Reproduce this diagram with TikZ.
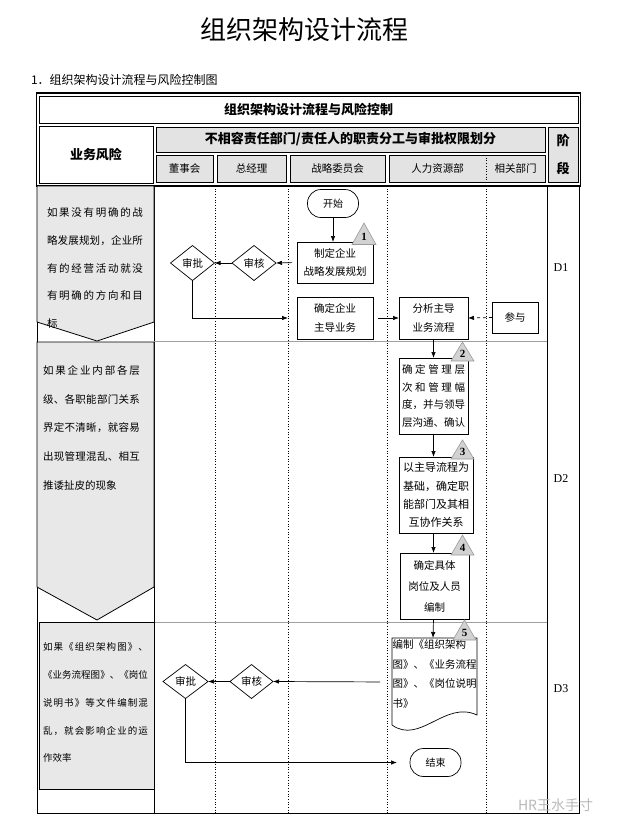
\documentclass[tikz,border=0pt]{standalone}
\usepackage{fontspec}
\setmainfont{Noto Sans CJK SC}
\newfontfamily\latinserif{Liberation Serif}
\usetikzlibrary{arrows.meta,shapes.geometric}
\definecolor{hgray}{HTML}{E3E3E3}
\definecolor{riskgray}{HTML}{E8E8E8}
\definecolor{trigray}{HTML}{D2D2D2}
\definecolor{triedge}{HTML}{9A9A9A}
\definecolor{sepgray}{HTML}{A0A0A0}
\def\spreadA#1{#1\spreadB}
\def\spreadB#1{\ifx#1\relax\else\hfil#1\expandafter\spreadB\fi}
\newcommand\spreadln[2]{\makebox[#1][s]{\spreadA#2\relax}}
\tikzset{
  every node/.style={inner sep=0pt,outer sep=0pt},
  hcell/.style={draw,line width=0.8pt,fill=hgray},
  wcell/.style={draw,line width=0.8pt,fill=white},
  hbold/.style={font=\bfseries\fontsize{13}{15}\selectfont},
  hsub/.style={font=\fontsize{10.5}{12}\selectfont},
  box/.style={draw,line width=0.7pt,fill=white,align=center,font=\fontsize{10.5}{18.5}\selectfont},
  dia/.style={draw,diamond,line width=0.7pt,aspect=1.25,minimum width=44pt,minimum height=35pt,fill=white,font=\fontsize{10.5}{12}\selectfont},
  term/.style={draw,rounded corners=13.5pt,line width=0.7pt,minimum width=51pt,minimum height=28pt,fill=white,font=\fontsize{10}{12}\selectfont},
  flow/.style={line width=0.7pt,-{Latex[length=6pt,width=4.5pt]}},
  risk/.style={draw,line width=0.8pt,fill=riskgray},
  risktxt/.style={anchor=west,font=\fontsize{10.5}{12}\selectfont},
  risktxtsm/.style={anchor=west,font=\fontsize{9.5}{12}\selectfont},
  tri/.style={draw=triedge,fill=trigray,line width=0.6pt},
  trinum/.style={font=\latinserif\bfseries\fontsize{11}{12}\selectfont},
  colsep/.style={dotted,line width=0.7pt},
  stagesep/.style={draw=sepgray,line width=0.7pt},
  dlab/.style={font=\latinserif\fontsize{12}{14}\selectfont}
}
\begin{document}
\begin{tikzpicture}[x=1pt,y=-1pt]
\useasboundingbox[fill=white] (0,0) rectangle (619,831);

% titles
\node[font=\fontsize{26}{30}\selectfont] (title) at (304,30) {组织架构设计流程};
\node[anchor=west,font=\fontsize{12}{14}\selectfont] (subtitle) at (31,80) {1．组织架构设计流程与风险控制图};

% header
\draw[line width=1.2pt] (36.5,93) rectangle (580.5,186);
\node[wcell,hbold,minimum width=539pt,minimum height=27pt] (htitle) at (308.5,109.5) {组织架构设计流程与风险控制};
\node[wcell,hbold,minimum width=114pt,minimum height=57pt] (hrisk) at (96,154.5) {业务风险};
\node[hcell,hbold,minimum width=389pt,minimum height=25pt] (hmain) at (350.5,139.5) {不相容责任部门/责任人的职责分工与审批权限划分};
\node[hcell,hsub,minimum width=57pt,minimum height=27pt] (hdsh) at (184.5,168.5) {董事会};
\node[hcell,hsub,minimum width=69pt,minimum height=27pt] (hzjl) at (251.5,168.5) {总经理};
\node[hcell,hsub,minimum width=95pt,minimum height=27pt] (hzl) at (337.5,168.5) {战略委员会};
\node[hcell,minimum width=156pt,minimum height=27pt] (hhr) at (467,168.5) {};
\draw[colsep] (486,155) -- (486,182);
\node[hsub] (hrl) at (437.5,168.5) {人力资源部};
\node[hsub] (hxg) at (515.5,168.5) {相关部门};
\node[hcell,hbold,minimum width=30pt,minimum height=55pt,align=center,font=\bfseries\fontsize{13}{28}\selectfont] (hjd) at (563,154.5) {阶\\段};

% body frame
\draw[line width=1pt] (37,186) -- (37,813) -- (579.5,813) -- (579.5,186);
\draw[line width=0.8pt] (154,186) -- (154,813);
\draw[line width=0.8pt] (547,186) -- (547,813);
\foreach \xx in {215,288,387,486} \draw[colsep] (\xx,186) -- (\xx,813);
\draw[stagesep] (154,341.5) -- (547,341.5);
\draw[stagesep] (154,622) -- (547,622);

% risk shapes
\draw[risk] (37,186) -- (154,186) -- (154,322) -- (97,341) -- (37,322) -- cycle;
\draw[risk] (37,342) -- (154,342) -- (154,587) -- (97,620) -- (37,587) -- cycle;
\draw[risk] (39,622) rectangle (154,789);

\node[risktxt] (r1a) at (47,213) {\spreadln{96pt}{如果没有明确的战}};
\node[risktxt] (r1b) at (47,240.5) {\spreadln{96pt}{略发展规划，企业所}};
\node[risktxt] (r1c) at (47,268) {\spreadln{96pt}{有的经营活动就没}};
\node[risktxt] (r1d) at (47,295.5) {\spreadln{96pt}{有明确的方向和目}};
\node[risktxt] (r1e) at (47,323) {标};

\node[risktxt] (r2a) at (43,371) {\spreadln{97pt}{如果企业内部各层}};
\node[risktxt] (r2b) at (43,399.5) {\spreadln{97pt}{级、各职能部门关系}};
\node[risktxt] (r2c) at (43,428) {\spreadln{97pt}{界定不清晰，就容易}};
\node[risktxt] (r2d) at (43,456.5) {\spreadln{97pt}{出现管理混乱、相互}};
\node[risktxt] (r2e) at (43,485) {推诿扯皮的现象};

\node[risktxtsm] (r3a) at (43,647) {\spreadln{105pt}{如果《组织架构图》、}};
\node[risktxtsm] (r3b) at (43,675) {\spreadln{105pt}{《业务流程图》、《岗位}};
\node[risktxtsm] (r3c) at (43,703) {\spreadln{105pt}{说明书》等文件编制混}};
\node[risktxtsm] (r3d) at (43,730.5) {\spreadln{105pt}{乱，就会影响企业的运}};
\node[risktxtsm] (r3e) at (43,758) {作效率};

% stage labels
\node[dlab] (d1) at (561,268) {D1};
\node[dlab] (d2) at (561,479) {D2};
\node[dlab] (d3) at (561,689) {D3};

% flow nodes
\node[term] (start) at (333,203.5) {开始};
\node[box,minimum width=76pt,minimum height=41pt] (b1) at (335,262.5) {制定企业\\战略发展规划};
\node[dia] (sh1) at (254,263) {审核};
\node[dia] (sp1) at (192.5,263) {审批};
\node[box,minimum width=76pt,minimum height=42pt] (b2) at (335,318) {确定企业\\主导业务};
\node[box,minimum width=69pt,minimum height=42pt] (b3) at (433.5,318) {分析主导\\业务流程};
\node[box,minimum width=46pt,minimum height=31pt] (cy) at (515,317.5) {参与};
\node[box,minimum width=69pt,minimum height=76pt,font=\fontsize{10.5}{17.5}\selectfont] (b4) at (433.5,396) {\spreadln{63pt}{确定管理层}\\\spreadln{63pt}{次和管理幅}\\\spreadln{63pt}{度，并与领导}\\\spreadln{63pt}{层沟通、确认}};
\node[box,minimum width=74pt,minimum height=76pt,font=\fontsize{11}{18.3}\selectfont] (b5) at (436,495) {以主导流程为\\基础，确定职\\能部门及其相\\互协作关系};
\node[box,minimum width=69pt,minimum height=66pt,font=\fontsize{10.5}{21}\selectfont] (b6) at (434.5,586) {确定具体\\岗位及人员\\编制};

% document shape
\draw[line width=0.7pt,fill=white] (392,638) -- (477,638) -- (477,715) .. controls (445,700) and (420,745) .. (392,725) -- cycle;
\node[anchor=north west,align=left,text width=85pt,font=\fontsize{10.5}{19.5}\selectfont] (doc) at (392.5,640) {编制《组织架构\\图》、《业务流程\\图》、《岗位说明\\书》};
\coordinate (docL) at (392,682);
\coordinate (docT) at (433,638);

\node[dia,minimum width=43pt,minimum height=34pt] (sh2) at (251.5,681.5) {审核};
\node[dia,minimum width=45pt,minimum height=34pt] (sp2) at (185.5,681.5) {审批};
\node[term] (end) at (435.5,762.5) {结束};

% connectors
\draw[flow] (start) -- (start |- b1.north);
\draw[flow,shorten <=5pt] (b1.west) -- (sh1.east);
\draw[flow] (sh1.west) -- (sp1.east);
\draw[flow,shorten >=9pt] (sp1.south) |- (b2.west);
\draw[flow,shorten <=5pt] (b2.east) -- (b3.west);
\draw[flow,dashed] (cy.west) -- (b3.east);
\draw[flow] (b3.south) -- (b3.south |- b4.north);
\draw[flow] (b4.south) -- (b4.south |- b5.north);
\draw[flow] (b4.south |- b5.south) -- (b4.south |- b6.north);
\draw[flow] (b4.south |- b6.south) -- (docT);
\draw[flow,shorten <=12pt] (docL) -- (sh2.east);
\draw[flow] (sh2.west) -- (sp2.east);
\draw[flow,shorten >=13pt] (sp2.south) |- (end.west);

% step markers
\draw[tri] (352,244.5) -- (376,244.5) -- (364,223) -- cycle;
\node[trinum] (t1) at (364,236.5) {1};
\draw[tri] (451,361) -- (474,361) -- (462.5,342) -- cycle;
\node[trinum] (t2) at (462.5,353.5) {2};
\draw[tri] (451,459) -- (474,459) -- (462.5,440) -- cycle;
\node[trinum] (t3) at (462.5,451.5) {3};
\draw[tri] (451,555) -- (474,555) -- (462.5,535) -- cycle;
\node[trinum] (t4) at (462.5,547.5) {4};
\draw[tri] (453,640) -- (476,640) -- (464.5,620) -- cycle;
\node[trinum] (t5) at (464.5,632.5) {5};

% watermark
\node[anchor=west,text=gray!55,font=\fontsize{14}{16}\selectfont] (wm) at (518,805) {HR王水手寸};
\end{tikzpicture}
\end{document}
